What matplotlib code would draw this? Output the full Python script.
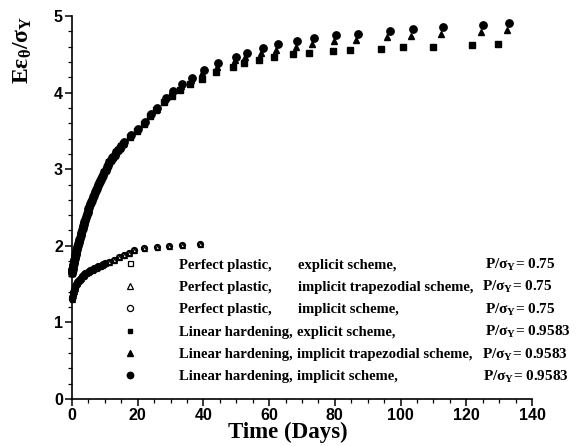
import matplotlib
matplotlib.use('Agg')
import matplotlib.pyplot as plt
from matplotlib.ticker import MultipleLocator

plt.rcParams['mathtext.fontset'] = 'custom'
plt.rcParams['mathtext.rm'] = 'Liberation Serif:bold'
plt.rcParams['mathtext.it'] = 'Liberation Serif:bold'
plt.rcParams['mathtext.bf'] = 'Liberation Serif:bold'

# ---------------- data ----------------
# Perfect plastic (P/sigma_Y = 0.75)
pp_t = [0, 0.1, 0.2, 0.3, 0.4, 0.5, 0.6, 0.8, 1.0, 1.2, 1.4, 1.6, 1.8, 2.0, 2.3, 2.6,
        2.9, 3.2, 3.5, 3.8, 4.1, 4.4, 4.8, 5.2, 5.6, 6.0, 6.4, 6.8, 7.2, 7.6, 8.0, 8.5,
        9.0, 9.5, 10.0, 11.4, 12.9, 14.4, 15.9, 17.4, 19.0, 22.0, 25.8, 29.5, 33.6, 39.1]
pp_explicit_y = [1.30, 1.33, 1.355, 1.38, 1.40, 1.415, 1.43, 1.455, 1.475, 1.495, 1.51,
                 1.525, 1.54, 1.555, 1.57, 1.585, 1.60, 1.61, 1.62, 1.63, 1.64, 1.65,
                 1.66, 1.67, 1.68, 1.69, 1.70, 1.71, 1.715, 1.72, 1.73, 1.74, 1.75, 1.76,
                 1.77, 1.79, 1.82, 1.85, 1.88, 1.91, 1.94, 1.97, 1.99, 2.00, 2.01, 2.03]
pp_trap_y = [1.30, 1.33, 1.355, 1.38, 1.40, 1.415, 1.43, 1.455, 1.475, 1.495, 1.51,
             1.525, 1.54, 1.555, 1.57, 1.585, 1.60, 1.61, 1.62, 1.63, 1.64, 1.65,
             1.66, 1.67, 1.68, 1.69, 1.70, 1.71, 1.715, 1.72, 1.73, 1.74, 1.75, 1.76,
             1.77, 1.79, 1.82, 1.85, 1.88, 1.91, 1.94, 1.97, 1.99, 2.00, 2.01, 2.03]
pp_implicit_y = [1.30, 1.33, 1.355, 1.38, 1.40, 1.415, 1.43, 1.455, 1.475, 1.495, 1.51,
                 1.525, 1.54, 1.555, 1.57, 1.585, 1.60, 1.61, 1.62, 1.63, 1.64, 1.65,
                 1.66, 1.67, 1.68, 1.69, 1.70, 1.71, 1.715, 1.72, 1.73, 1.74, 1.75, 1.76,
                 1.77, 1.79, 1.82, 1.85, 1.88, 1.91, 1.94, 1.97, 1.99, 2.00, 2.01, 2.03]

# Linear hardening (P/sigma_Y = 0.9583) -- early dense part shared by the three schemes
lh_early_t = [0, 0.05, 0.1, 0.15, 0.2, 0.3, 0.4, 0.5, 0.6, 0.7, 0.8, 0.9, 1.0, 1.1, 1.2,
              1.35, 1.5, 1.65, 1.8, 1.95, 2.1, 2.25, 2.4, 2.6, 2.8, 3.0, 3.2, 3.4, 3.6,
              3.8, 4.0, 4.25, 4.5, 4.75, 5.0, 5.25, 5.5, 5.75, 6.0, 6.3, 6.6, 6.9, 7.2,
              7.5, 7.8, 8.1, 8.4, 8.7, 9.0, 9.4, 9.8, 10.2, 10.6, 11.0, 11.4, 11.8, 12.2,
              12.6, 13.0, 13.5, 14.0, 14.5, 15.0]
lh_early_y = [1.65, 1.665, 1.68, 1.69, 1.70, 1.73, 1.755, 1.78, 1.80, 1.82, 1.84, 1.86,
              1.88, 1.895, 1.91, 1.935, 1.96, 1.985, 2.01, 2.03, 2.055, 2.08, 2.10, 2.135,
              2.17, 2.20, 2.23, 2.255, 2.285, 2.31, 2.34, 2.375, 2.41, 2.445, 2.48, 2.51,
              2.54, 2.57, 2.60, 2.635, 2.665, 2.70, 2.73, 2.76, 2.79, 2.82, 2.845, 2.875,
              2.90, 2.93, 2.965, 2.995, 3.03, 3.06, 3.09, 3.115, 3.14, 3.165, 3.19, 3.22,
              3.25, 3.275, 3.30]

lh_implicit_t = [15.9, 17.9, 20.0, 22.2, 24.0, 26.0, 28.5, 30.8, 33.6, 36.6, 40.1, 44.5,
                 50.0, 53.2, 58.0, 62.6, 68.6, 73.6, 80.2, 87.1, 96.8, 103.9, 113.0,
                 125.2, 133.1]
lh_implicit_y = [3.35, 3.44, 3.52, 3.61, 3.72, 3.80, 3.93, 4.02, 4.11, 4.19, 4.29, 4.38,
                 4.47, 4.52, 4.58, 4.63, 4.67, 4.71, 4.75, 4.77, 4.80, 4.83, 4.86,
                 4.88, 4.91]

lh_trap_t = [15.8, 17.8, 19.9, 22.0, 23.8, 25.8, 28.3, 30.5, 33.3, 36.2, 39.7, 44.0,
             49.5, 52.7, 57.5, 62.0, 68.1, 73.0, 79.6, 86.4, 96.0, 103.1, 112.2,
             124.4, 132.3]
lh_trap_y = [3.34, 3.43, 3.51, 3.60, 3.71, 3.79, 3.91, 4.00, 4.09, 4.16, 4.25, 4.34,
             4.42, 4.47, 4.52, 4.56, 4.60, 4.64, 4.67, 4.69, 4.72, 4.74, 4.77,
             4.79, 4.82]

lh_explicit_t = [15.6, 17.6, 19.7, 21.8, 23.6, 25.6, 28.0, 30.3, 33.0, 36.0, 39.6, 43.8,
                 49.0, 52.3, 56.8, 61.4, 67.3, 72.2, 79.4, 84.5, 94.0, 100.6, 109.9,
                 121.8, 129.6]
lh_explicit_y = [3.33, 3.42, 3.50, 3.59, 3.69, 3.77, 3.88, 3.96, 4.03, 4.11, 4.18, 4.27,
                 4.34, 4.39, 4.43, 4.46, 4.50, 4.52, 4.54, 4.56, 4.57, 4.59, 4.60,
                 4.62, 4.63]

col1 = ['Perfect plastic,', 'Perfect plastic,', 'Perfect plastic,',
        'Linear hardening,', 'Linear hardening,', 'Linear hardening,']
col2 = ['explicit scheme,', 'implicit trapezodial scheme,', 'implicit scheme,',
        'explicit scheme,', 'implicit trapezodial scheme,', 'implicit scheme,']
col3 = ['0.75', '0.75', '0.75', '0.9583', '0.9583', '0.9583']

x_ticks = [0, 20, 40, 60, 80, 100, 120, 140]
y_ticks = [0, 1, 2, 3, 4, 5]

# ---------------- figure ----------------
W, H = 578, 446
AX_L, AX_R, AX_T, AX_B = 72, 532, 16, 399
fig = plt.figure(figsize=(W / 100, H / 100), dpi=100)
ax = fig.add_axes([AX_L / W, 1 - AX_B / H, (AX_R - AX_L) / W, (AX_B - AX_T) / H])

open_kw = dict(linestyle='none', markerfacecolor='none', markeredgecolor='black',
               markeredgewidth=0.9, clip_on=False)
fill_kw = dict(linestyle='none', color='black', clip_on=False)

h1, = ax.plot(pp_t, pp_explicit_y, marker='s', markersize=3.2, **open_kw)
h2, = ax.plot(pp_t, pp_trap_y, marker='^', markersize=3.6, **open_kw)
h3, = ax.plot(pp_t, pp_implicit_y, marker='o', markersize=4.3, **open_kw)

h4, = ax.plot(lh_early_t + lh_explicit_t, lh_early_y + lh_explicit_y,
              marker='s', markersize=3.9, **fill_kw)
h5, = ax.plot(lh_early_t + lh_trap_t, lh_early_y + lh_trap_y,
              marker='^', markersize=4.7, **fill_kw)
h6, = ax.plot(lh_early_t + lh_implicit_t, lh_early_y + lh_implicit_y,
              marker='o', markersize=5.3, **fill_kw)

ax.set_xlim(0, 140)
ax.set_ylim(0, 5)
ax.set_xticks(x_ticks)
ax.set_yticks(y_ticks)
ax.xaxis.set_minor_locator(MultipleLocator(5))
ax.yaxis.set_minor_locator(MultipleLocator(0.2))
ax.tick_params(which='major', direction='out', length=5, width=1.1, pad=1.5,
               top=False, right=False)
ax.tick_params(which='minor', direction='out', length=3, width=0.9,
               top=False, right=False)
for lab in ax.get_xticklabels() + ax.get_yticklabels():
    lab.set_fontfamily('Liberation Sans')
    lab.set_fontweight('bold')
    lab.set_fontsize(11.5)
for s in ['top', 'right']:
    ax.spines[s].set_visible(False)
for s in ['left', 'bottom']:
    ax.spines[s].set_linewidth(1.2)

ax.set_xlabel('Time (Days)', fontfamily='Liberation Serif', fontweight='bold', fontsize=16.5)
ax.xaxis.set_label_coords((288 - AX_L) / (AX_R - AX_L), (AX_B - 422) / (AX_B - AX_T))
ax.set_ylabel('E\u03b5$_{\u03b8}$/\u03c3$_{\\mathrm{Y}}$', fontfamily='Liberation Serif',
              fontweight='bold', fontsize=17)
ax.yaxis.set_label_coords((34 - AX_L) / (AX_R - AX_L), (AX_B - 50) / (AX_B - AX_T))

# legend: markers + first column; remaining columns aligned to the rows
fs = 10.5
fs_px = fs * 100 / 72
marker_x = 130
text_x = 179
row0_y = 265
pitch_target = 22.4
ax_w = AX_R - AX_L
ax_h = AX_B - AX_T
leg_marker_sizes = [3.6, 4.0, 4.4, 3.4, 4.2, 4.6]


def make_leg(ls, top_px):
    lg = ax.legend([h1, h2, h3, h4, h5, h6], col1, loc='upper left',
                   bbox_to_anchor=((marker_x - 0.5 * fs_px - AX_L) / ax_w,
                                   (AX_B - top_px) / ax_h),
                   frameon=False, numpoints=1, handlelength=1.0,
                   handletextpad=(text_x - marker_x - 0.5 * fs_px) / fs_px,
                   borderpad=0, borderaxespad=0, labelspacing=ls,
                   prop={'family': 'Liberation Serif', 'weight': 'bold', 'size': fs})
    for hd, ms in zip(lg.legend_handles, leg_marker_sizes):
        hd.set_markersize(ms)
    return lg


def centers(lg):
    fig.canvas.draw()
    out = []
    for t in lg.get_texts():
        bb = t.get_window_extent()
        out.append((H - (bb.y0 + bb.y1) / 2, bb.x1))
    return out


ls = 0.6
top = 256
leg = make_leg(ls, top)
c = centers(leg)
pitch = (c[5][0] - c[0][0]) / 5
ls = ls + (pitch_target - pitch) / fs_px
leg.remove()
leg = make_leg(ls, top)
c = centers(leg)
top = top + (row0_y - c[0][0])
leg.remove()
leg = make_leg(ls, top)
c = centers(leg)

col3_x = [485, 482, 485, 485, 482, 483]
for i, (yc, x_end) in enumerate(c):
    yf = 1 - yc / H
    if i < 3:
        x2 = 298
    else:
        x2 = x_end + 4
    fig.text(x2 / W, yf, col2[i], fontfamily='Liberation Serif',
             fontweight='bold', fontsize=fs, va='center')
    fig.text(col3_x[i] / W, yf, 'P/\u03c3$_{\\mathrm{Y}}$= ' + col3[i],
             fontfamily='Liberation Serif', fontweight='bold', fontsize=fs + 0.5,
             va='center')

fig.savefig('out.png', dpi=100)
